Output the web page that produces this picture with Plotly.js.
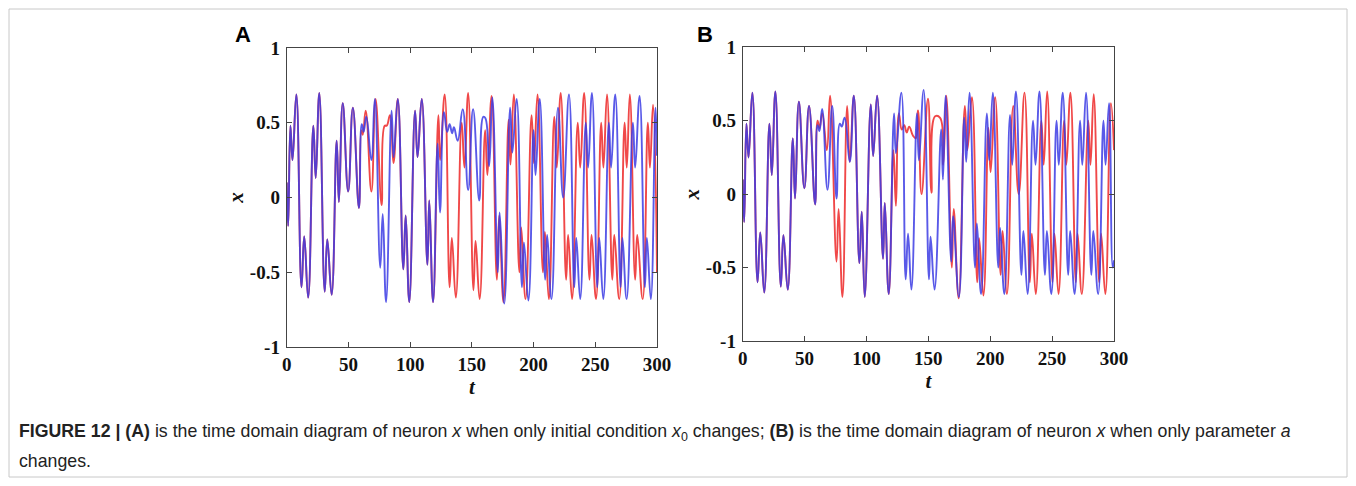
<!DOCTYPE html>
<html>
<head>
<meta charset="utf-8">
<script src="https://cdn.plot.ly/plotly-3.0.1.min.js"></script>
<style>
html,body{margin:0;padding:0;background:#fff;}
#chart{width:1356px;height:486px;}
</style>
</head>
<body>
<div id="chart"></div>
<script>
// ---------- data (local extrema) ----------
// Panel A, red trajectory
const tA_red = [0,1.2,3,4.7,7.8,12,14.2,17.4,21.6,23.5,26.4,30.8,32.9,36.4,40.5,42.3,45.4,49.8,53.6,58.5,
  60.5,61.6,64,68.6,72,76.9,79.4,81,83.7,86.5,90,94.5,96.4,99.3,104,106,109.4,114,115.5,118.6,
  122.9,124.3,128,132,133.8,137,141.8,144,147,151.3,153,156.3,160.8,162.6,166,170.3,172.2,175.6,179.8,181.3,
  184,188.5,190,193.5,198.4,200.3,203.2,207.6,209.2,212.4,216.8,218.8,222,226.4,228,231.2,235.8,237.8,
  241,245.3,247,250.6,254.8,256.6,259.5,263.8,265.4,269.4,273.8,275.5,278,282.3,284,288.4,292.6,294.3,296.8,300];
const xA_red = [0.1,-0.19,0.48,0.25,0.69,-0.6,-0.26,-0.67,0.48,0.13,0.70,-0.63,-0.28,-0.65,0.38,-0.03,0.63,0.04,0.6,-0.07,
  0.45,0.42,0.58,0.04,0.66,-0.05,0.48,0.48,0.55,0.23,0.66,-0.48,-0.12,-0.70,0.58,0.27,0.66,-0.45,-0.02,-0.70,
  0.55,0.25,0.69,-0.6,-0.27,-0.67,0.5,0.2,0.70,-0.62,-0.29,-0.68,0.45,0.15,0.68,-0.55,-0.12,-0.70,0.52,0.22,
  0.69,-0.5,-0.2,-0.68,0.55,0.23,0.69,-0.5,-0.23,-0.68,0.54,0.2,0.70,-0.55,-0.25,-0.68,0.5,0.2,
  0.70,-0.55,-0.25,-0.68,0.5,0.2,0.69,-0.55,-0.25,-0.68,0.5,0.2,0.69,-0.55,-0.25,-0.68,0.5,0.2,0.62,-0.5];

// Panel A, blue trajectory
const tA_blue = [0,1.2,3,4.7,7.8,12,14.2,17.4,21.6,23.5,26.4,30.8,32.9,36.4,40.5,42.3,45.4,49.8,53.6,58.5,
  60.8,62.3,64.5,68.6,71.4,75.8,77.8,80.5,85,86.6,90,94.5,96.4,99.3,104,106,109.4,114,115.5,118.6,
  122.3,124.2,127.4,130,132,134,135.5,138.5,142.6,147,151,156,159.3,161,164,166.6,171,172.5,176.3,181,182.8,
  186.3,190.6,192.2,195.8,200,201.6,205,209.4,211,214.5,219.8,224,228.7,233,234.6,237.8,242.3,244.2,
  247.3,251.6,253.2,256.5,261,262.8,266.2,270.5,272,275.4,280.5,282.3,285.9,290.2,291.8,295,298.8,300];
const xA_blue = [0.1,-0.19,0.48,0.25,0.69,-0.6,-0.26,-0.67,0.48,0.13,0.70,-0.63,-0.28,-0.65,0.38,-0.03,0.63,0.04,0.6,-0.07,
  0.49,0.44,0.54,0.25,0.66,-0.47,-0.11,-0.70,0.58,0.27,0.66,-0.48,-0.12,-0.70,0.58,0.27,0.66,-0.45,-0.02,-0.70,
  0.36,-0.1,0.57,0.44,0.49,0.43,0.47,0.38,0.59,0.05,0.59,-0.02,0.54,0.53,0.21,0.67,-0.5,-0.1,-0.71,0.6,0.3,
  0.66,-0.6,-0.3,-0.69,0.45,0.15,0.66,-0.55,-0.25,-0.68,0.6,0.0,0.69,-0.6,-0.27,-0.68,0.5,0.2,
  0.70,-0.6,-0.27,-0.68,0.5,0.2,0.69,-0.6,-0.27,-0.68,0.5,0.2,0.68,-0.6,-0.27,-0.68,0.6,0.28];

// Panel B, red trajectory
const tB_red = [0,1.2,3,4.7,7.8,12,14.2,17.4,21.6,23.5,26.4,30.8,32.9,36.4,40.5,42.3,45.4,49.8,53.6,58.5,
  60.5,62,64.3,68,70.6,75.8,77.5,80.6,84.4,86.5,89.8,94.3,96.2,98.6,103.5,105.4,108.6,113.4,114.8,118,
  121.8,123.8,126.2,128.5,130.5,132.5,134.5,137.5,139.8,141.7,144.5,149.7,152.5,155.5,159.5,162,164.5,169,170.5,174.5,
  179.5,181.5,185.2,189.5,191,194.5,198.5,200.3,204,208.4,210,213.5,218.6,223,227.7,232,233.6,236.8,241.3,243.2,
  246,250.3,251.9,255.2,259.7,261.5,264.8,269.1,270.6,274,279.2,281,283.6,288,289.6,293,297.5,300];
const xB_red = [0.1,-0.19,0.48,0.25,0.69,-0.6,-0.26,-0.67,0.48,0.13,0.70,-0.63,-0.28,-0.65,0.38,-0.03,0.63,0.04,0.6,-0.07,
  0.5,0.45,0.55,0.3,0.67,-0.46,-0.1,-0.70,0.6,0.22,0.67,-0.47,-0.12,-0.70,0.61,0.26,0.67,-0.44,-0.06,-0.68,
  0.3,-0.08,0.55,0.44,0.47,0.42,0.46,0.4,0.38,0.57,0.0,0.65,0.01,0.53,0.52,0.2,0.67,-0.5,-0.1,-0.71,
  0.6,0.3,0.66,-0.6,-0.3,-0.69,0.45,0.15,0.66,-0.55,-0.25,-0.68,0.6,0.0,0.69,-0.6,-0.27,-0.68,0.5,0.2,
  0.70,-0.6,-0.27,-0.68,0.5,0.2,0.69,-0.6,-0.27,-0.68,0.5,0.2,0.68,-0.6,-0.27,-0.68,0.62,0.3];

// Panel B, blue trajectory
const tB_blue = [0,1.2,3,4.7,7.8,12,14.2,17.4,21.6,23.5,26.4,30.8,32.9,36.4,40.5,42.3,45.4,49.8,53.6,58.5,
  60.5,62,64.2,68.5,72.3,75.8,78.5,80,82.4,86.5,89.8,94.3,96.2,98.6,103.5,105.4,108.6,113.4,114.8,118,
  122.3,123.8,128.2,131.7,133.6,136.3,140.8,142.4,146.2,150.5,151.8,155,160.4,161.8,163.9,168.5,170,174.7,179,180.6,
  183.3,187.7,189.2,192.6,197.3,199.2,202.1,206.5,208,211.4,216,217.8,220.8,225.2,226.8,230.2,234.6,236.6,
  239.8,244.2,245.8,249.4,253.6,255.4,258.6,263,264.6,268.2,272.6,274.4,277.4,281.7,283.3,287.2,291.5,293.2,296,299,300];
const xB_blue = [0.1,-0.19,0.48,0.25,0.69,-0.6,-0.26,-0.67,0.48,0.13,0.70,-0.63,-0.28,-0.65,0.38,-0.03,0.63,0.04,0.6,-0.07,
  0.47,0.43,0.58,0.03,0.6,-0.03,0.48,0.46,0.52,0.22,0.67,-0.47,-0.12,-0.70,0.61,0.26,0.67,-0.44,-0.06,-0.68,
  0.55,0.28,0.69,-0.58,-0.27,-0.65,0.55,0.23,0.71,-0.58,-0.29,-0.65,0.44,0.1,0.67,-0.46,-0.15,-0.70,0.52,0.22,
  0.69,-0.5,-0.2,-0.68,0.55,0.23,0.69,-0.5,-0.23,-0.68,0.54,0.2,0.70,-0.55,-0.25,-0.68,0.5,0.2,
  0.70,-0.55,-0.25,-0.68,0.5,0.2,0.69,-0.55,-0.25,-0.68,0.5,0.2,0.69,-0.55,-0.25,-0.68,0.5,0.2,0.62,-0.5,-0.45];

const xTicks = [0,50,100,150,200,250,300];
const yTicks = [-1,-0.5,0,0.5,1];
const yTickText = ['-1','-0.5','0','0.5','1'];
const panelLabels = ['A','B'];
const captionLine1 = '<b>FIGURE 12 | (A)</b> is the time domain diagram of neuron <i>x</i> when only initial condition <i>x</i><sub>0</sub> changes; <b>(B)</b> is the time domain diagram of neuron <i>x</i> when only parameter <i>a</i>';
const captionLine2 = 'changes.';

// ---------- styling ----------
const RED = 'rgb(240,72,72)';
const BLUE = 'rgb(60,60,228)';
const W = 1356, H = 486;
function px(v){return v/W;}
function py(v){return 1 - v/H;}

function line(t, x, color, xa, ya, op){
  return {x:t, y:x, type:'scatter', mode:'lines', xaxis:xa, yaxis:ya,
    line:{color:color, width:1.9, shape:'spline', smoothing:1.3}, opacity:op, hoverinfo:'skip', showlegend:false};
}

const data = [
  line(tA_red, xA_red, RED, 'x', 'y', 1),
  line(tA_blue, xA_blue, BLUE, 'x', 'y', 0.85),
  line(tB_red, xB_red, RED, 'x2', 'y2', 1),
  line(tB_blue, xB_blue, BLUE, 'x2', 'y2', 0.85)
];

const tickFont = {family:'"Liberation Serif", "Times New Roman", serif', size:19, color:'#111'};
const titleFont = {family:'"Liberation Serif", "Times New Roman", serif', size:21, color:'#111'};
const capFamily = '"Liberation Sans Narrow", "Arial Narrow", "Liberation Sans", Arial, sans-serif';

function xAxis(domain, anchor){
  return {domain:domain, anchor:anchor, range:[0,300], tickvals:xTicks, ticktext:xTicks.map(v=>'<b>'+v+'</b>'),
    ticks:'inside', ticklen:5, tickcolor:'#444', tickwidth:1, showline:true, linecolor:'#444', linewidth:1,
    mirror:'ticks', showgrid:false, zeroline:false, tickfont:tickFont, ticklabelstandoff:0,
    title:{text:'<b><i>t</i></b>', font:titleFont, standoff:0}};
}
function yAxis(domain, anchor){
  return {domain:domain, anchor:anchor, range:[-1,1], tickvals:yTicks, ticktext:yTickText.map(v=>'<b>'+v+'</b>'),
    ticks:'inside', ticklen:5, tickcolor:'#444', tickwidth:1, showline:true, linecolor:'#444', linewidth:1,
    mirror:'ticks', showgrid:false, zeroline:false, tickfont:tickFont, ticklabelstandoff:2,
    title:{text:'<b><i>x</i></b>', font:titleFont, standoff:0}};
}

const layout = {
  width:W, height:H, margin:{l:0,r:0,t:0,b:0}, paper_bgcolor:'#fff', plot_bgcolor:'#fff',
  showlegend:false,
  xaxis: xAxis([px(286.7), px(657)], 'y'),
  yaxis: yAxis([py(347), py(48)], 'x'),
  xaxis2: xAxis([px(742.7), px(1114)], 'y2'),
  yaxis2: yAxis([py(341), py(47.3)], 'x2'),
  shapes:[
    {type:'rect', xref:'paper', yref:'paper', x0:px(9), x1:px(1347), y0:py(477), y1:py(9),
     line:{color:'#c8c8c8', width:1}, fillcolor:'rgba(0,0,0,0)'}
  ],
  annotations:[
    {text:'<b>'+panelLabels[0]+'</b>', xref:'paper', yref:'paper', x:px(243), y:py(35), xanchor:'center', yanchor:'middle', showarrow:false,
     font:{family:'"Liberation Sans", Arial, sans-serif', size:22, color:'#000'}},
    {text:'<b>'+panelLabels[1]+'</b>', xref:'paper', yref:'paper', x:px(705), y:py(35), xanchor:'center', yanchor:'middle', showarrow:false,
     font:{family:'"Liberation Sans", Arial, sans-serif', size:22, color:'#000'}},
    {text:captionLine1, xref:'paper', yref:'paper', x:px(17), y:py(432), xanchor:'left', yanchor:'middle', showarrow:false,
     font:{family:capFamily, size:19, color:'#222'}},
    {text:captionLine2, xref:'paper', yref:'paper', x:px(17), y:py(461), xanchor:'left', yanchor:'middle', showarrow:false,
     font:{family:capFamily, size:19, color:'#222'}}
  ]
};

Plotly.newPlot('chart', data, layout, {staticPlot:true, displayModeBar:false}).then(function(gd){
  // fit caption line 1 to the width it spans in the reference (x 17 .. 1293)
  const ann = gd.querySelectorAll('.annotation-text-g');
  if (ann.length >= 3) {
    const bb = ann[2].getBBox();
    if (bb.width > 0) {
      const s = Math.max(12, Math.min(24, 19 * 1276 / bb.width));
      Plotly.relayout(gd, {'annotations[2].font.size': s, 'annotations[3].font.size': s});
    }
  }
});
</script>
</body>
</html>
